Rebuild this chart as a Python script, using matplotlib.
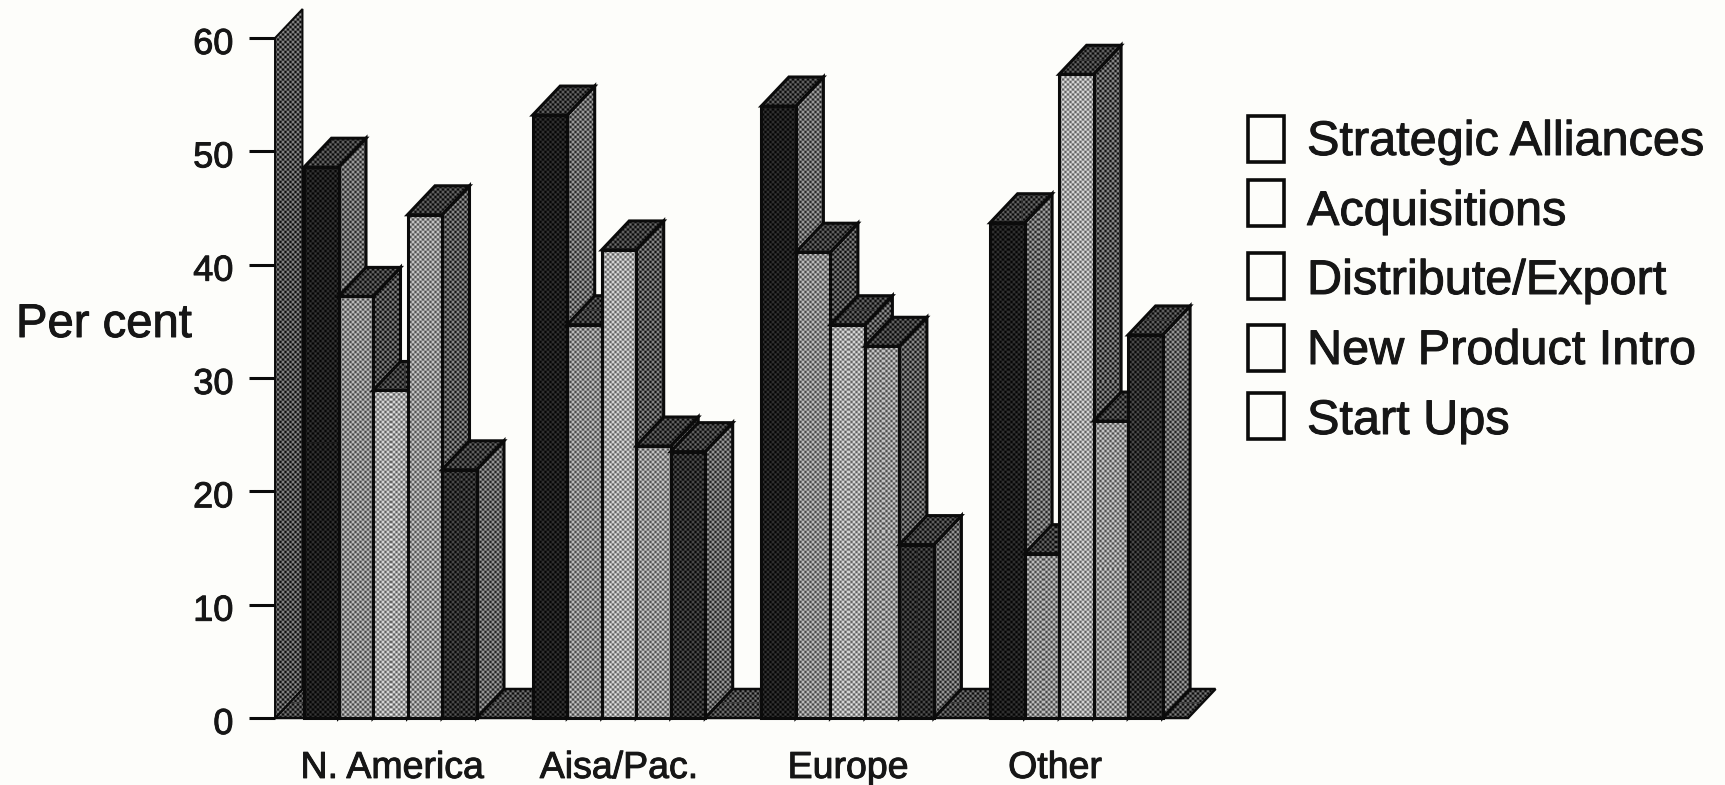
import numpy as np
import matplotlib
matplotlib.use("Agg")
import matplotlib.pyplot as plt
import matplotlib.patheffects as pe
from matplotlib.patches import Polygon, Rectangle
from matplotlib.transforms import ScaledTranslation

plt.rcParams['font.family'] = ['Liberation Sans', 'DejaVu Sans']

regions = ['N. America', 'Aisa/Pac.', 'Europe', 'Other']
series_names = ['Strategic Alliances', 'Acquisitions', 'Distribute/Export', 'New Product Intro', 'Start Ups']
strategic = [48.6, 53.2, 54.0, 43.7]
acquisitions = [37.2, 34.7, 41.1, 14.5]
distribute = [28.9, 41.3, 34.7, 56.8]
new_product = [44.4, 24.0, 32.8, 26.2]
start_ups = [21.9, 23.5, 15.3, 33.8]
series = [strategic, acquisitions, distribute, new_product, start_ups]
wall_height = 60
y_ticks = [0, 10, 20, 30, 40, 50, 60]

front_tone = [0.11, 0.53, 0.63, 0.56, 0.17]
side_tone = [0.40, 0.28, 0.32, 0.33, 0.38]
top_tone = 0.22
wall_tone = 0.30
floor_tone = 0.25
INK = '#0b0b0b'
TEXT = '#161616'
PAPER = '#fdfdfa'

W, H = 1725, 785
PX_PER_UNIT = 680 / 60
BAR_PX, PITCH_PX, DEPTH_X, DEPTH_Y = 34.5, 228.7, 27.5, 29
LEFT, RIGHT, BASE, TOP = 275, 1216, 718, 9

fig = plt.figure(figsize=(W / 100, H / 100), dpi=100, facecolor=PAPER)
ax = fig.add_axes([LEFT / W, 1 - BASE / H, (RIGHT - LEFT) / W, (BASE - TOP) / H])
ax.set_facecolor('none')
ax.set_xlim(0, (RIGHT - LEFT) / BAR_PX)
ax.set_ylim(0, (BASE - TOP) / PX_PER_UNIT)
ax.autoscale(False)
for s in ax.spines.values():
    s.set_visible(False)

dx = DEPTH_X / BAR_PX
dy = DEPTH_Y / PX_PER_UNIT
x0 = (304 - LEFT) / BAR_PX
pitch = PITCH_PX / BAR_PX
bold = [pe.withStroke(linewidth=0.7, foreground=TEXT)]


def face(pts, tone, z, lw=2.2):
    """Polygon with a fine diagonal halftone screen, clipped to its outline."""
    pts = np.array(pts, dtype=float)
    px = ax.transData.transform(pts)
    x1, x2 = int(px[:, 0].min()) - 1, int(px[:, 0].max()) + 2
    y1, y2 = int(px[:, 1].min()) - 1, int(px[:, 1].max()) + 2
    xx, yy = np.meshgrid(np.arange(x1, x2), np.arange(y2 - 1, y1 - 1, -1))
    q = 5
    screen = 0.5 * (np.cos(2 * np.pi * (xx + yy) / q) + np.cos(2 * np.pi * (xx - yy) / q))
    amp = 0.3 * min(1, tone / 0.3, (1 - tone) / 0.3)
    img = np.clip(tone + amp * screen, 0, 1)
    inv = ax.transData.inverted()
    (ex1, ey1), (ex2, ey2) = inv.transform([(x1, y1), (x2, y2)])
    im = ax.imshow(img, cmap='gray', vmin=0, vmax=1, extent=(ex1, ex2, ey1, ey2),
                   aspect='auto', interpolation='nearest', zorder=z, clip_on=True)
    clip = Polygon(pts, closed=True, transform=ax.transData)
    im.set_clip_path(clip)
    ax.add_patch(Polygon(pts, closed=True, fill=False, edgecolor=INK, linewidth=lw,
                         joinstyle='miter', zorder=z + 0.5, clip_on=False))


z = 1
# floor
floor_end = (1188 - LEFT) / BAR_PX
face([(0, 0), (floor_end, 0), (floor_end + dx, dy), (dx, dy)], floor_tone, z, lw=1.8)
z += 1
# back-left wall: the sliver at the axis
face([(0, 0), (dx, dy), (dx, wall_height + dy), (0, wall_height)], wall_tone, z, lw=1.4)
z += 1

for g in range(len(regions)):
    for i, vals in enumerate(series):
        v = vals[g]
        xl = x0 + g * pitch + i
        xr = xl + 1
        face([(xr, 0), (xr + dx, dy), (xr + dx, v + dy), (xr, v)], side_tone[i], z)
        face([(xl, v), (xr, v), (xr + dx, v + dy), (xl + dx, v + dy)], top_tone, z + 1)
        face([(xl, 0), (xr, 0), (xr, v), (xl, v)], front_tone[i], z + 2)
        z += 3

ax.set_yticks(y_ticks)
ax.tick_params(axis='y', length=19, width=2.2, color=INK, pad=11, labelsize=26, labelcolor=TEXT)
centers = [(392 - LEFT) / BAR_PX, (619 - LEFT) / BAR_PX, (848 - LEFT) / BAR_PX, (1055 - LEFT) / BAR_PX]
ax.set_xticks(centers)
ax.set_xticklabels(regions)
ax.tick_params(axis='x', length=0, pad=23, labelsize=27, labelcolor=TEXT)
for t in ax.get_xticklabels() + ax.get_yticklabels():
    t.set_path_effects(bold)
shift = ScaledTranslation(0, -2.5 / 100, fig.dpi_scale_trans)
for t in ax.get_yticklabels():
    t.set_transform(t.get_transform() + shift)

fig.text(16 / W, 1 - 337 / H, 'Per cent', ha='left', va='baseline', fontsize=34, color=TEXT,
         path_effects=bold)

# legend
box_tops = [116, 180, 253, 325, 393]
text_base = [155, 225, 294, 364, 434]
for top, by, name in zip(box_tops, text_base, series_names):
    fig.add_artist(Rectangle((1248 / W, 1 - (top + 46) / H), 36 / W, 46 / H, transform=fig.transFigure,
                             fill=False, edgecolor=INK, linewidth=2.6))
    fig.text(1307 / W, 1 - by / H, name, ha='left', va='baseline', fontsize=35, color=TEXT,
             path_effects=bold)

fig.savefig('out.png', dpi=100, facecolor=PAPER)
